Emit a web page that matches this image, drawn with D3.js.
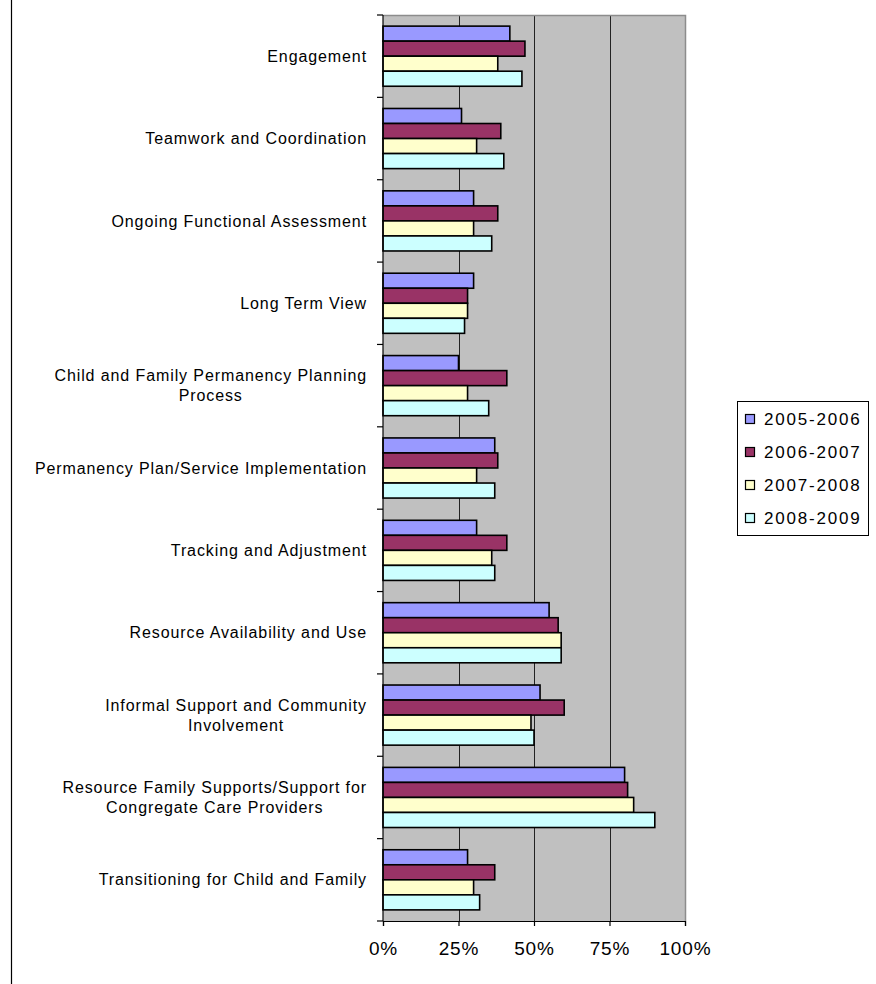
<!DOCTYPE html>
<html>
<head>
<meta charset="utf-8">
<script src="https://cdn.jsdelivr.net/npm/d3@7"></script>
<style>
  body { margin: 0; background: #fff; }
  text { font-family: Arial, "Liberation Sans", sans-serif; fill: #000; }
</style>
</head>
<body>
<svg width="876" height="984"></svg>
<script>
// categories, top to bottom ("\n" marks where the label wraps)
var categories = [
  "Engagement",
  "Teamwork and Coordination",
  "Ongoing Functional Assessment",
  "Long Term View",
  "Child and Family Permanency Planning\nProcess",
  "Permanency Plan/Service Implementation",
  "Tracking and Adjustment",
  "Resource Availability and Use",
  "Informal Support and Community\nInvolvement",
  "Resource Family Supports/Support for\nCongregate Care Providers",
  "Transitioning for Child and Family"
];

var series = ["2005-2006", "2006-2007", "2007-2008", "2008-2009"];

// percent values, same order as categories
var v2005 = [42, 26, 30, 30, 25, 37, 31, 55, 52, 80, 28];
var v2006 = [47, 39, 38, 28, 41, 38, 41, 58, 60, 81, 37];
var v2007 = [38, 31, 30, 28, 28, 31, 36, 59, 49, 83, 30];
var v2008 = [46, 40, 36, 27, 35, 37, 37, 59, 50, 90, 32];

var colors = ["#9999ff", "#993366", "#ffffcc", "#ccffff"];
var xTicks = [0, 25, 50, 75, 100];

var values = [v2005, v2006, v2007, v2008];

var svg = d3.select("svg");

var plot = { left: 383, right: 685, top: 15, bottom: 921 };

var x = d3.scaleLinear().domain([0, 100]).range([plot.left, plot.right]);

var y0 = d3.scaleBand()
  .domain(categories)
  .range([plot.top, plot.bottom])
  .paddingInner(0.27)
  .paddingOuter(0.135);

var y1 = d3.scaleBand()
  .domain(series)
  .range([0, y0.bandwidth()]);

var color = d3.scaleOrdinal().domain(series).range(colors);

// border line on the left of the chart area
svg.append("line")
  .attr("x1", 11.5).attr("x2", 11.5)
  .attr("y1", 0).attr("y2", 984)
  .attr("stroke", "#000")
  .attr("stroke-width", 1.2);

// plot background
svg.append("rect")
  .attr("x", plot.left).attr("y", plot.top)
  .attr("width", plot.right - plot.left)
  .attr("height", plot.bottom - plot.top)
  .attr("fill", "#c0c0c0");

// vertical gridlines
svg.append("g")
  .selectAll("line")
  .data(xTicks.slice(1, -1))
  .enter().append("line")
    .attr("x1", function(d) { return Math.round(x(d)) + 0.5; })
    .attr("x2", function(d) { return Math.round(x(d)) + 0.5; })
    .attr("y1", plot.top)
    .attr("y2", plot.bottom)
    .attr("stroke", "#222")
    .attr("stroke-width", 1);

// plot border (top and right, gray)
svg.append("path")
  .attr("d", "M" + plot.left + "," + (plot.top + 0.5) + "H" + (plot.right + 0.5) + "V" + plot.bottom)
  .attr("fill", "none")
  .attr("stroke", "#8c8c8c")
  .attr("stroke-width", 1.5);

// bars, one group per category
var rows = categories.map(function(c, i) {
  return { cat: c, bars: series.map(function(s, j) { return { key: s, value: values[j][i] }; }) };
});

svg.append("g")
  .selectAll("g")
  .data(rows)
  .enter().append("g")
    .attr("transform", function(d) { return "translate(0," + y0(d.cat) + ")"; })
  .selectAll("rect")
  .data(function(d) { return d.bars; })
  .enter().append("rect")
    .attr("x", x(0))
    .attr("y", function(d) { return y1(d.key); })
    .attr("width", function(d) { return x(d.value) - x(0); })
    .attr("height", y1.bandwidth())
    .attr("fill", function(d) { return color(d.key); })
    .attr("stroke", "#000")
    .attr("stroke-width", 1.6);

// left axis line and tick marks on band boundaries
var boundaries = d3.range(categories.length + 1).map(function(i) {
  return plot.top + i * y0.step();
});

svg.append("line")
  .attr("x1", plot.left).attr("x2", plot.left)
  .attr("y1", plot.top).attr("y2", plot.bottom)
  .attr("stroke", "#000").attr("stroke-width", 1.2);

svg.append("g")
  .selectAll("line")
  .data(boundaries)
  .enter().append("line")
    .attr("x1", plot.left - 6).attr("x2", plot.left)
    .attr("y1", function(d) { return d; })
    .attr("y2", function(d) { return d; })
    .attr("stroke", "#000").attr("stroke-width", 1.2);

// bottom axis
var xAxis = svg.append("g")
  .attr("transform", "translate(0," + plot.bottom + ")")
  .call(d3.axisBottom(x)
    .tickValues(xTicks)
    .tickSize(5)
    .tickPadding(16)
    .tickFormat(function(d) { return d + "%"; }));

xAxis.select(".domain").attr("stroke", "#000").attr("stroke-width", 1.2);
xAxis.selectAll(".tick line").attr("stroke", "#000").attr("stroke-width", 1.2);
xAxis.selectAll(".tick text")
  .attr("font-size", "19px")
  .attr("font-family", "Arial, 'Liberation Sans', sans-serif")
  .style("letter-spacing", "0.9px")
  .attr("fill", "#000");

// category labels, centered lines, right edge at labelRight
var labelRight = 367;

var labels = svg.append("g")
  .selectAll("text")
  .data(categories)
  .enter().append("text")
    .attr("font-size", "16px")
    .style("letter-spacing", "0.9px")
    .attr("text-anchor", "middle")
    .attr("y", function(d) { return y0(d) + y0.bandwidth() / 2; });

labels.each(function(d) {
  var lines = d.split("\n");
  var t = d3.select(this);
  var cy = y0(d) + y0.bandwidth() / 2;
  lines.forEach(function(line, k) {
    t.append("tspan")
      .attr("x", 0)
      .attr("y", cy + (k - (lines.length - 1) / 2) * 20)
      .attr("dy", "0.35em")
      .text(line);
  });
  var w = this.getBBox().width;
  t.selectAll("tspan").attr("x", labelRight - w / 2);
});

// legend
var legend = svg.append("g").attr("transform", "translate(737,401)");

legend.append("rect")
  .attr("x", 0.5).attr("y", 0.5)
  .attr("width", 131).attr("height", 134)
  .attr("fill", "#fff")
  .attr("stroke", "#000")
  .attr("stroke-width", 1);

var item = legend.selectAll("g.item")
  .data(series)
  .enter().append("g")
    .attr("class", "item")
    .attr("transform", function(d, i) { return "translate(0," + (18 + i * 33) + ")"; });

item.append("rect")
  .attr("x", 8.5).attr("y", -4.5)
  .attr("width", 9).attr("height", 9)
  .attr("fill", function(d) { return color(d); })
  .attr("stroke", "#000")
  .attr("stroke-width", 1.2);

item.append("text")
  .attr("x", 27)
  .attr("dy", "0.36em")
  .attr("font-size", "17px")
  .style("letter-spacing", "1.8px")
  .text(function(d) { return d; });
</script>
</body>
</html>
